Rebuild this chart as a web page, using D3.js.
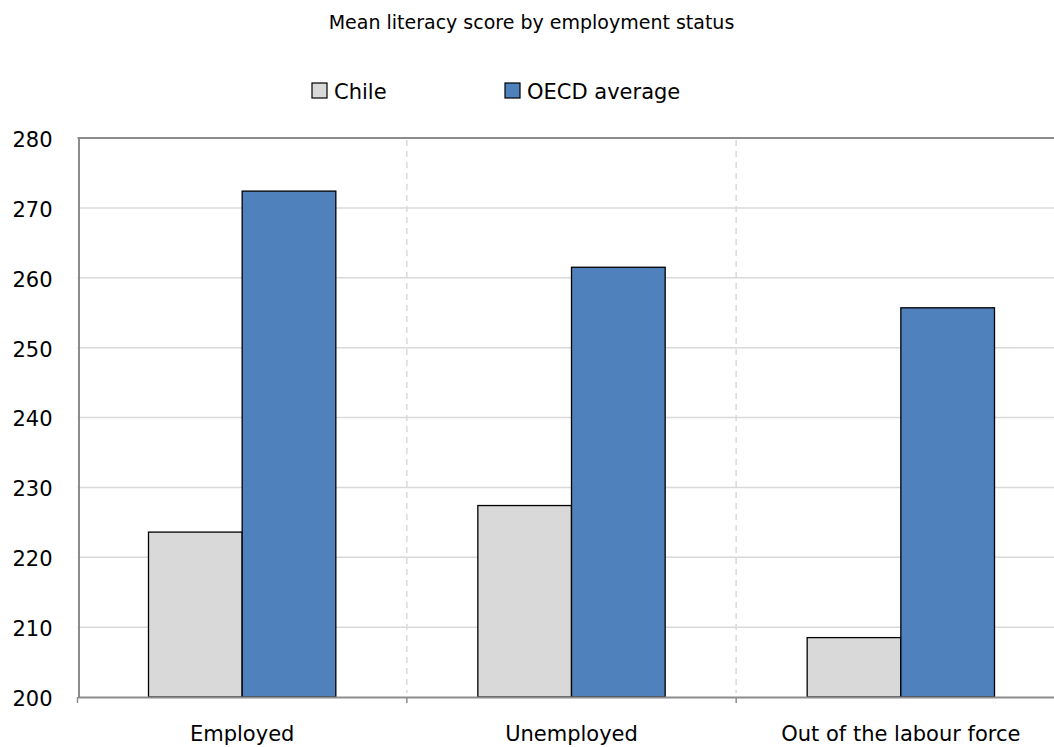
<!DOCTYPE html>
<html><head><meta charset="utf-8">
<script src="https://cdn.jsdelivr.net/npm/d3@7"></script>
<style>
html,body{margin:0;padding:0;background:#fff;}
svg{display:block;font-family:"DejaVu Sans", sans-serif;}
</style></head>
<body>
<svg id="chart" width="1054" height="747"></svg>
<script>
const title = "Mean literacy score by employment status";
const categories = ["Employed", "Unemployed", "Out of the labour force"];
const seriesNames = ["Chile", "OECD average"];
const chileValues = [223.6, 227.4, 208.5];
const oecdValues = [272.4, 261.5, 255.7];
const yTicks = [200, 210, 220, 230, 240, 250, 260, 270, 280];
const seriesColors = ["#d9d9d9", "#4f81bd"];

(function(){
const FONT = "'DejaVu Sans', sans-serif";
const svg = d3.select("#chart");
const pLeft = 77.5, pRight = 1065.5, pTop = 138, pBottom = 697;

const x0 = d3.scaleBand().domain(categories).range([pLeft, pRight]).padding(0);
const groupGap = 71;
const x1 = d3.scaleBand().domain(seriesNames).range([groupGap, x0.bandwidth() - groupGap]).padding(0);
const y = d3.scaleLinear().domain([200, 280]).range([pBottom, pTop]);

// gridlines
svg.append("g").selectAll("line").data(yTicks.filter(d => d > 200 && d < 280)).join("line")
  .attr("x1", pLeft).attr("x2", pRight)
  .attr("y1", d => y(d)).attr("y2", d => y(d))
  .attr("stroke", "#d9d9d9").attr("stroke-width", 1.5);

// dashed category separators
svg.append("g").selectAll("line").data(categories.slice(1)).join("line")
  .attr("x1", d => x0(d)).attr("x2", d => x0(d))
  .attr("y1", pTop + 2).attr("y2", pBottom - 4)
  .attr("stroke", "#d9d9d9").attr("stroke-width", 1.5).attr("stroke-dasharray", "6,5");

// top border
svg.append("line").attr("x1", pLeft).attr("x2", pRight).attr("y1", pTop).attr("y2", pTop)
  .attr("stroke", "#8c8c8c").attr("stroke-width", 2);

// bars
const rows = categories.map((c, i) => ({cat: c, vals: [chileValues[i], oecdValues[i]]}));
const groups = svg.append("g").selectAll("g").data(rows).join("g")
  .attr("transform", d => `translate(${x0(d.cat)},0)`);
groups.selectAll("rect").data(d => d.vals.map((v, j) => ({s: seriesNames[j], v, j}))).join("rect")
  .attr("x", d => x1(d.s)).attr("width", x1.bandwidth())
  .attr("y", d => y(d.v)).attr("height", d => y(200) - y(d.v))
  .attr("fill", d => seriesColors[d.j]).attr("stroke", "#000").attr("stroke-width", 1.3);

// axes
const yAxis = d3.axisLeft(y).tickValues(yTicks).tickSize(0).tickPadding(0);
const gy = svg.append("g").attr("transform", `translate(${pLeft + 1},0)`).call(yAxis);
gy.attr("font-family", FONT).attr("font-size", 21);
gy.select(".domain").attr("stroke", "#8c8c8c").attr("stroke-width", 2);
gy.selectAll("text").attr("x", -26).attr("dy", "0.4em").attr("fill", "#000");

const xAxis = d3.axisBottom(x0).tickSize(0).tickPadding(0);
const gx = svg.append("g").attr("transform", `translate(0,${pBottom})`).call(xAxis);
gx.attr("font-family", FONT).attr("font-size", 21);
gx.select(".domain").attr("stroke", "#8c8c8c").attr("stroke-width", 2);
gx.selectAll("text").attr("y", 44).attr("dy", 0).attr("fill", "#000");
gx.append("g").selectAll("line").data(categories).join("line")
  .attr("x1", d => x0(d)).attr("x2", d => x0(d)).attr("y1", 0).attr("y2", 6)
  .attr("stroke", "#8c8c8c").attr("stroke-width", 1.5);

// title
svg.append("text").attr("x", 531.5).attr("y", 28.5).attr("text-anchor", "middle")
  .attr("font-size", 19).attr("fill", "#000").text(title);

// legend
const legendX = [312, 505];
const lg = svg.append("g").selectAll("g").data(seriesNames).join("g")
  .attr("transform", (d, i) => `translate(${legendX[i]},83)`);
lg.append("rect").attr("width", 15).attr("height", 15)
  .attr("fill", (d, i) => seriesColors[i]).attr("stroke", "#000").attr("stroke-width", 1.2);
lg.append("text").attr("x", 22).attr("y", 15.5).attr("font-size", 21).attr("fill", "#000").text(d => d);
})();
</script>
</body></html>
